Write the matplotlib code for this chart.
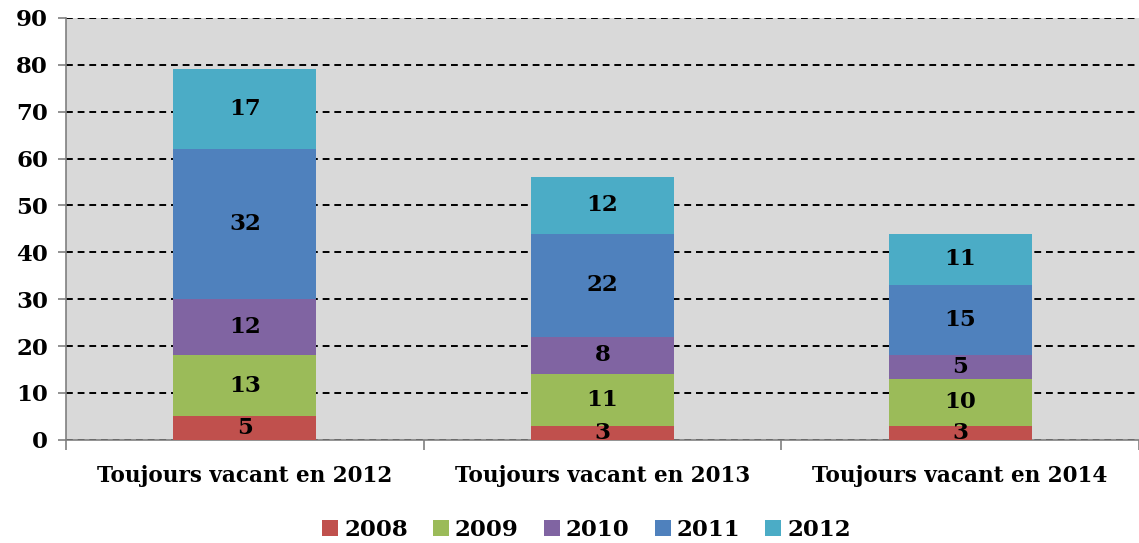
import numpy as np
import matplotlib
matplotlib.use("Agg")
import matplotlib.pyplot as plt
from matplotlib.ticker import MultipleLocator, FixedLocator

categories = ["Toujours vacant en 2012", "Toujours vacant en 2013", "Toujours vacant en 2014"]
years = ["2008", "2009", "2010", "2011", "2012"]
v2008 = [5, 3, 3]
v2009 = [13, 11, 10]
v2010 = [12, 8, 5]
v2011 = [32, 22, 15]
v2012 = [17, 12, 11]

colors = ["#C0504D", "#9BBB59", "#8064A2", "#4F81BD", "#4BACC6"]

plt.rcParams["font.family"] = "DejaVu Serif"
plt.rcParams["font.weight"] = "bold"

fig = plt.figure(figsize=(11.39, 5.43), dpi=100)
ax = fig.add_axes([0.058, 0.19, 0.942, 0.777])
ax.set_facecolor("#D9D9D9")

x = np.arange(len(categories))
bottom = np.zeros(len(categories))
for year, vals, col in zip(years, [v2008, v2009, v2010, v2011, v2012], colors):
    vals = np.array(vals, dtype=float)
    ax.bar(x, vals, 0.40, bottom=bottom, color=col, label=year, zorder=3)
    for xi, b, v in zip(x, bottom, vals):
        ax.text(xi, b + v / 2, f"{int(v)}", ha="center", va="center",
                fontsize=16.5, fontweight="bold", color="black", zorder=4)
    bottom += vals

ax.set_xlim(-0.5, 2.5)
ax.set_ylim(0, 90)
ax.yaxis.set_major_locator(MultipleLocator(10))
ax.yaxis.grid(True, color="black", linestyle=(0, (3.5, 2.5)), linewidth=1.4, zorder=1)
ax.set_axisbelow(True)
ax.get_ygridlines()[0].set_visible(False)

ax.set_xticks(x)
ax.set_xticklabels(categories, fontsize=15.5, fontweight="bold")
ax.xaxis.set_minor_locator(FixedLocator([-0.5, 0.5, 1.5, 2.5]))
ax.tick_params(axis="x", which="major", length=0, pad=18)
ax.tick_params(axis="x", which="minor", length=7, color="#808080", width=1.2)
ax.tick_params(axis="y", length=6, color="#808080", width=1.2, labelsize=16.5, pad=7)
for lbl in ax.get_yticklabels():
    lbl.set_fontweight("bold")

for side in ["top", "right"]:
    ax.spines[side].set_visible(False)
for side in ["left", "bottom"]:
    ax.spines[side].set_color("#808080")
    ax.spines[side].set_linewidth(1.2)

fig.legend(loc="lower center", bbox_to_anchor=(0.515, -0.035), ncol=5, frameon=False,
           prop={"size": 16.5, "weight": "bold"}, handlelength=0.7, handleheight=0.7,
           handletextpad=0.25, columnspacing=1.1)

fig.savefig("out.png", dpi=100)
